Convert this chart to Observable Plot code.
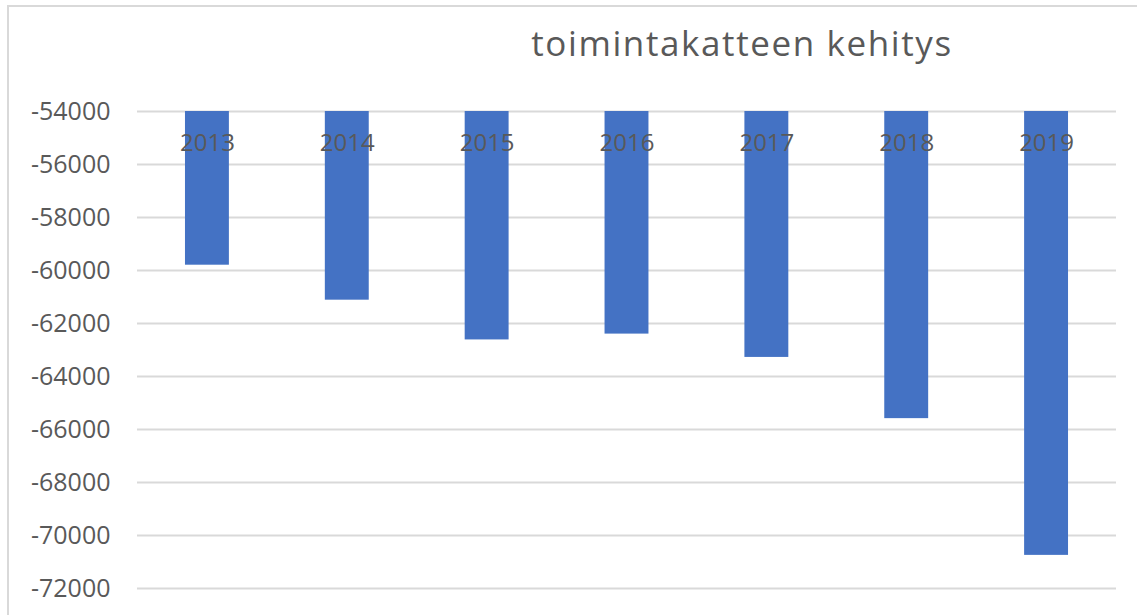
<!DOCTYPE html>
<html>
<head>
<meta charset="utf-8">
<script src="https://cdn.jsdelivr.net/npm/d3@7"></script>
<script src="https://cdn.jsdelivr.net/npm/@observablehq/plot@0.6"></script>
<style>
  html, body { margin: 0; padding: 0; background: #fff; }
  #wrap { position: relative; width: 1137px; height: 615px; overflow: hidden; font-family: "Open Sans", sans-serif; }
  #border { position: absolute; left: 7px; top: 5px; width: 1200px; height: 700px; border-left: 2px solid #d9d9d9; border-top: 2px solid #d9d9d9; box-sizing: border-box; pointer-events: none; }
  #title { position: relative; height: 90px; }
  #title span { position: absolute; left: 742px; top: 25px; transform: translateX(-50%); white-space: nowrap; font-size: 35px; line-height: 35px; letter-spacing: 1.6px; color: #595959; }
</style>
</head>
<body>
<div id="wrap">
  <div id="title"><span>toimintakatteen kehitys</span></div>
  <div id="chart"></div>
  <div id="border"></div>
</div>
<script>
const years = ["2013", "2014", "2015", "2016", "2017", "2018", "2019"];
const values = [-59800, -61120, -62620, -62400, -63280, -65590, -70750];
const yTicks = [-54000, -56000, -58000, -60000, -62000, -64000, -66000, -68000, -70000, -72000];

const data = years.map((y, i) => ({year: y, value: values[i]}));

const chart = Plot.plot({
  width: 1137,
  height: 525,
  marginTop: 21,
  marginBottom: 27,
  marginLeft: 137,
  marginRight: 21,
  style: {fontFamily: "Open Sans, sans-serif", fontSize: "24px", color: "#595959", background: "#fff"},
  x: {domain: years, paddingInner: 0.686, paddingOuter: 0.343, round: false, axis: null},
  y: {domain: [-72000, -54000], axis: null},
  marks: [
    Plot.ruleY(yTicks, {stroke: "#d9d9d9", strokeWidth: 2}),
    Plot.barY(data, {x: "year", y1: -54000, y2: "value", fill: "#4472C4"}),
    Plot.axisY({ticks: yTicks, tickSize: 0, tickPadding: 27, label: null, tickFormat: d => String(d), fill: "#595959", fontSize: 25}),
    Plot.text(years, {x: d => d, frameAnchor: "top", dy: 32, fill: "#595959", fontSize: 24, lineAnchor: "middle"})
  ]
});
document.getElementById("chart").appendChild(chart);
</script>
</body>
</html>
